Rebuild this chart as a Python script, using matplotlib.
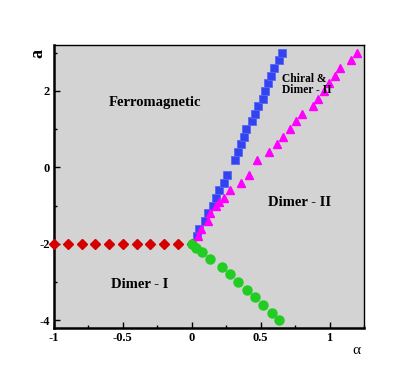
import numpy as np
import matplotlib
matplotlib.use("Agg")
import matplotlib.pyplot as plt
from matplotlib.ticker import MultipleLocator

# Dimer-I / ferromagnetic boundary (red diamonds)
red_x = [-1.0, -0.9, -0.8, -0.7, -0.6, -0.5, -0.4, -0.3, -0.2, -0.1, 0.0]
red_y = [-2.0] * len(red_x)

# Dimer-I / Dimer-II boundary (green circles)
green_x = [0.0, 0.032, 0.075, 0.136, 0.217, 0.278, 0.338, 0.399, 0.459, 0.52, 0.58, 0.636]
green_y = [-2.0, -2.11, -2.2, -2.4, -2.6, -2.8, -3.0, -3.2, -3.4, -3.6, -3.8, -4.0]

# ferromagnetic / chiral boundary (blue squares)
blue_y = [-1.8, -1.6, -1.4, -1.2, -1.0, -0.8, -0.6, -0.4, -0.2,
          0.2, 0.4, 0.6, 0.8, 1.0, 1.2, 1.4, 1.6, 1.8, 2.0, 2.2, 2.4, 2.6, 2.8, 3.0]
blue_x = [0.039, 0.056, 0.094, 0.116, 0.155, 0.177, 0.196, 0.237, 0.256,
          0.317, 0.336, 0.358, 0.377, 0.396, 0.437, 0.457, 0.478, 0.517, 0.534,
          0.556, 0.575, 0.594, 0.636, 0.655]

# chiral / Dimer-II boundary (magenta triangles)
mag_y = [-1.8, -1.6, -1.4, -1.2, -1.0, -0.9, -0.8, -0.6, -0.4, -0.2,
         0.2, 0.4, 0.6, 0.8, 1.0, 1.2, 1.4, 1.6, 1.8, 2.0, 2.2, 2.4, 2.6, 2.8, 3.0]
mag_x = [0.043, 0.068, 0.116, 0.133, 0.177, 0.196, 0.237, 0.278, 0.358, 0.418,
         0.474, 0.558, 0.616, 0.66, 0.715, 0.756, 0.797, 0.877, 0.918, 0.957,
         0.998, 1.039, 1.078, 1.157, 1.196]

plt.rcParams['font.family'] = ['Liberation Serif', 'DejaVu Serif']
plt.rcParams['font.weight'] = 'bold'

fig = plt.figure(figsize=(4.15, 3.7), dpi=100)
ax = fig.add_axes([0.130, 0.1135, 0.747, 0.765])
ax.set_facecolor('#d3d3d3')

ax.plot(red_x, red_y, 'D', color='#d40000', ms=5.5, mec='#d40000', clip_on=False, zorder=3)
ax.plot(green_x, green_y, 'o', color='#22cc22', ms=6.5, mec='#22cc22', zorder=4)
ax.plot(blue_x, blue_y, 's', color='#3344ee', ms=6, mec='#5566ff', mew=0.6, zorder=3)
ax.plot(mag_x, mag_y, '^', color='#ff00ff', ms=6, mec='#ff00ff', zorder=4)

ax.set_xlim(-1, 1.25)
ax.set_ylim(-4.2, 3.2)
ax.xaxis.set_minor_locator(MultipleLocator(0.25))
ax.yaxis.set_minor_locator(MultipleLocator(1))
ax.set_xticks([-1, -0.5, 0, 0.5, 1])
ax.set_xticklabels(['-1', '-0.5', '0', '0.5', '1'])
ax.set_yticks([-4, -2, 0, 2])
ax.set_yticklabels(['-4', '-2', '0', '2'])
ax.tick_params(which='both', direction='in', labelsize=9, pad=3, width=1)
ax.tick_params(which='major', length=4)
ax.tick_params(which='minor', length=2.5)

for side in ['left', 'bottom']:
    ax.spines[side].set_linewidth(1.8)
for side in ['top', 'right']:
    ax.spines[side].set_linewidth(1.0)

ax.text(-0.27, 1.69, 'Ferromagnetic', fontsize=10.5, ha='center', va='center', fontweight='bold')
ax.text(0.78, -0.91, 'Dimer - II', fontsize=10.5, ha='center', va='center', fontweight='bold')
ax.text(-0.38, -3.06, 'Dimer - I', fontsize=10.5, ha='center', va='center', fontweight='bold')
ax.text(0.655, 2.16, 'Chiral &\nDimer - II', fontsize=8.3, ha='left', va='center',
        fontweight='bold', linespacing=0.9, zorder=6)

fig.text(38 / 415, 1 - 54 / 370, 'a', fontsize=13, rotation=90, ha='center', va='center',
         fontweight='bold')
fig.text(356 / 415, 1 - 350 / 370, 'α', fontsize=11, ha='center', va='center',
         fontweight='normal')

fig.savefig('out.png', dpi=100)
